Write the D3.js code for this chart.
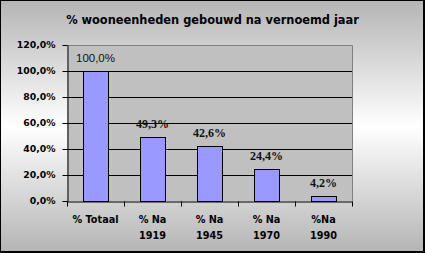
<!DOCTYPE html>
<html>
<head>
<meta charset="utf-8">
<script src="https://cdn.jsdelivr.net/npm/d3@7"></script>
<style>
  body { margin: 0; }
  svg { display: block; }
</style>
</head>
<body>
<svg id="chart" width="425" height="253"></svg>
<script>
// data
var categories = ["% Totaal", "% Na\n1919", "% Na\n1945", "% Na\n1970", "%Na\n1990"];
var values = [1.000, 0.493, 0.426, 0.244, 0.042];
var yTicks = [0, 0.2, 0.4, 0.6, 0.8, 1.0, 1.2];
var title = "% wooneenheden gebouwd na vernoemd jaar";

var svg = d3.select("#chart"),
  W = +svg.attr("width"), H = +svg.attr("height"),
  plot = {left: 67, right: 352, top: 45, bottom: 201};

var nl = d3.formatLocale({decimal: ",", thousands: ".", grouping: [3], currency: ["€", ""]});
var fmt = nl.format(".1%");

// background gradient, grey - white - grey
var defs = svg.append("defs");
var grad = defs.append("linearGradient").attr("id", "bg")
  .attr("x1", 0).attr("y1", 0).attr("x2", 0).attr("y2", 1);
grad.append("stop").attr("offset", "0%").attr("stop-color", "#b4b4b4");
grad.append("stop").attr("offset", "50%").attr("stop-color", "#ffffff");
grad.append("stop").attr("offset", "100%").attr("stop-color", "#b4b4b4");

svg.append("rect").attr("width", W).attr("height", H).attr("fill", "url(#bg)");

var x = d3.scaleBand()
  .domain(categories)
  .range([plot.left, plot.right])
  .paddingInner(0.565)
  .paddingOuter(0.2826);

var slot = d3.scaleBand()
  .domain(categories)
  .range([plot.left, plot.right]);

var y = d3.scaleLinear()
  .domain([0, 1.2])
  .range([plot.bottom, plot.top]);

// plot area
svg.append("rect")
  .attr("x", plot.left).attr("y", plot.top)
  .attr("width", plot.right - plot.left).attr("height", plot.bottom - plot.top)
  .attr("fill", "#c0c0c0");

svg.append("g").selectAll("line")
  .data(yTicks.filter(t => t > 0 && t < 1.2))
  .enter().append("line")
  .attr("x1", plot.left).attr("x2", plot.right)
  .attr("y1", d => Math.round(y(d)) + 0.5).attr("y2", d => Math.round(y(d)) + 0.5)
  .attr("stroke", "#000");

// top and right border of plot
svg.append("path")
  .attr("d", `M${plot.left},${plot.top + 0.5}H${plot.right + 0.5}V${plot.bottom}`)
  .attr("fill", "none").attr("stroke", "#808080");

// bars
svg.append("g").selectAll("rect")
  .data(values)
  .enter().append("rect")
  .attr("x", (d, i) => Math.round(x(categories[i])) + 0.5)
  .attr("y", d => Math.round(y(d)) + 0.5)
  .attr("width", Math.round(x.bandwidth()))
  .attr("height", d => Math.round(y(0)) - Math.round(y(d)))
  .attr("fill", "#9999ff")
  .attr("stroke", "#000");

// value labels
svg.append("g").selectAll("text")
  .data(values)
  .enter().append("text")
  .attr("x", (d, i) => x(categories[i]) + x.bandwidth() / 2)
  .attr("y", d => y(d) - 9)
  .attr("text-anchor", "middle")
  .style("font-family", (d, i) => i === 0 ? "'Liberation Sans', Arial, sans-serif" : "'Liberation Serif', 'Times New Roman', serif")
  .style("font-size", (d, i) => i === 0 ? "11.5px" : "12px")
  .style("font-weight", (d, i) => i === 0 ? "normal" : "bold")
  .attr("fill", "#111")
  .text(d => fmt(d));

// y axis
var yAxis = svg.append("g")
  .attr("transform", `translate(${plot.left + 0.5},0)`)
  .call(d3.axisLeft(y).tickValues(yTicks).tickFormat(fmt).tickSize(5).tickSizeOuter(0));

// x axis
var xAxis = svg.append("g")
  .attr("transform", `translate(0,${plot.bottom + 0.5})`)
  .call(d3.axisBottom(slot).tickSize(0).tickFormat(""));

xAxis.selectAll(".xtick")
  .data([plot.left].concat(categories.map(c => slot(c) + slot.bandwidth())))
  .enter().append("line")
  .attr("class", "xtick")
  .attr("x1", d => Math.round(d) + 0.5).attr("x2", d => Math.round(d) + 0.5)
  .attr("y1", 0).attr("y2", 5)
  .attr("stroke", "#000");

svg.selectAll(".domain").attr("stroke", "#000");
svg.selectAll(".tick line").attr("stroke", "#000");

yAxis.selectAll(".tick text")
  .attr("x", -12)
  .style("font-family", "'DejaVu Sans', Verdana, sans-serif")
  .style("font-weight", "bold")
  .style("font-size", "9.3px")
  .attr("fill", "#000");

// category labels, two lines
svg.append("g").selectAll("text")
  .data(categories)
  .enter().append("text")
  .attr("x", d => slot(d) + slot.bandwidth() / 2)
  .attr("y", 223)
  .attr("text-anchor", "middle")
  .style("font-family", "'DejaVu Sans', Verdana, sans-serif")
  .style("font-weight", "bold")
  .style("font-size", "9.7px")
  .each(function(d) {
    var t = d3.select(this);
    d.split("\n").forEach((line, i) => {
      t.append("tspan")
        .attr("x", slot(d) + slot.bandwidth() / 2)
        .attr("dy", i === 0 ? 0 : 15.5)
        .text(line);
    });
  });

// title
svg.append("text")
  .attr("x", 212.5)
  .attr("y", 24)
  .attr("text-anchor", "middle")
  .style("font-family", "'DejaVu Sans', Verdana, sans-serif")
  .style("font-weight", "bold")
  .style("font-size", "11.4px")
  .text(title);

// outer frame
svg.append("rect")
  .attr("x", 0.5).attr("y", 0.5).attr("width", W - 1).attr("height", H - 1)
  .attr("fill", "none").attr("stroke", "#000");
svg.append("path")
  .attr("d", `M${W - 1.5},1V${H - 1.5}H1`)
  .attr("fill", "none").attr("stroke", "#000");
</script>
</body>
</html>
